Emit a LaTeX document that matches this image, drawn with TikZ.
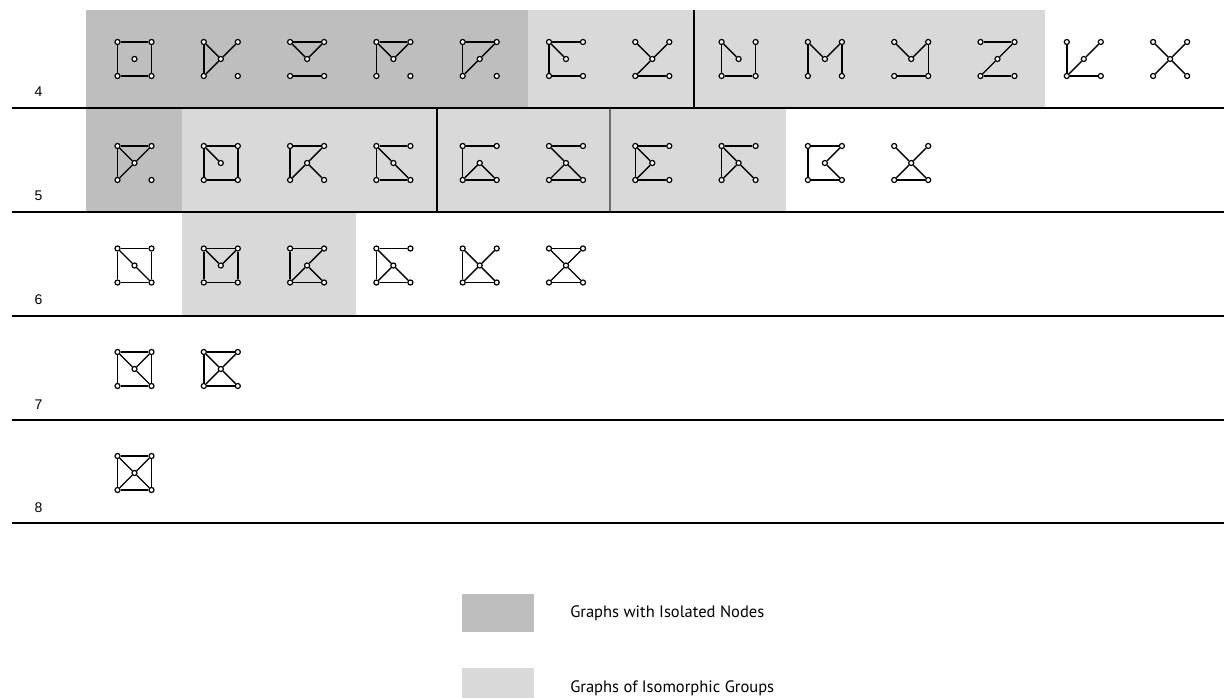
\documentclass[tikz,border=0pt]{standalone}
\usepackage{fontspec}
\setmainfont{Liberation Sans}
\newfontfamily\legendfont{PT Sans}
\definecolor{isodark}{RGB}{190,190,190}
\definecolor{isolight}{RGB}{217,217,217}
\definecolor{sepgray}{RGB}{110,110,110}
\tikzset{
  vtx/.style={circle,draw=black,fill=white,inner sep=0pt,minimum size=3.8pt,line width=0.9pt},
  gline/.style={line width=1.05pt,black},
  rowline/.style={line width=1.1pt,black},
  rowlabel/.style={anchor=base,inner sep=0pt,font=\fontsize{10.5}{12}\selectfont},
  legendtext/.style={anchor=west,inner sep=0pt,font=\legendfont\fontsize{12.4}{14}\selectfont},
}
\newcommand{\drawgraph}[4]{%
  \begin{scope}[shift={(#2,#3)}]
    \node[vtx] (#1tl) at (-17,-17) {};
    \node[vtx] (#1tr) at (17,-17) {};
    \node[vtx] (#1bl) at (-17,17) {};
    \node[vtx] (#1br) at (17,17) {};
    \node[vtx] (#1c) at (0,0) {};
    \foreach \u/\v in {#4} {\draw[gline] (#1\u) -- (#1\v);}
  \end{scope}}
\begin{document}
\begin{tikzpicture}[x=0.75pt,y=-0.75pt]
\useasboundingbox (0,0) rectangle (1224,698);
% shaded groups
\fill[isodark] (86,10) rectangle (528,108);
\fill[isolight] (528,10) rectangle (1045,108);
\fill[isodark] (86,108) rectangle (182,212);
\fill[isolight] (182,108) rectangle (786,212);
\fill[isolight] (182,212) rectangle (356,316);
\draw[line width=1pt] (694,10) -- (694,108);
\draw[line width=1pt] (437,108) -- (437,212);
\draw[line width=1pt,sepgray] (610,108) -- (610,212);
% row separators
\foreach \yy in {108,212,316,420,523} {\draw[rowline] (12,\yy) -- (1224,\yy);}
% row labels
\node[rowlabel] (l4) at (38.5,97) {4};
\node[rowlabel] (l5) at (38.5,201) {5};
\node[rowlabel] (l6) at (38.5,305) {6};
\node[rowlabel] (l7) at (38.5,409) {7};
\node[rowlabel] (l8) at (38.5,512) {8};
% row 4
\drawgraph{a1}{134.5}{59}{tl/tr,tr/br,br/bl,bl/tl}
\drawgraph{a2}{220.8}{59}{tl/bl,tl/c,bl/c,c/tr}
\drawgraph{a3}{307.1}{59}{tl/tr,tl/c,tr/c,bl/br}
\drawgraph{a4}{393.4}{59}{tl/tr,tl/c,tr/c,tl/bl}
\drawgraph{a5}{479.7}{59}{tl/tr,tl/bl,bl/c,c/tr}
\drawgraph{a6}{566.0}{59}{tl/tr,tl/c,tl/bl,bl/br}
\drawgraph{a7}{652.3}{59}{tl/c,tr/c,c/bl,bl/br}
\drawgraph{a8}{738.6}{59}{tl/c,tl/bl,bl/br,br/tr}
\drawgraph{a9}{824.9}{59}{tl/bl,tl/c,c/tr,tr/br}
\drawgraph{a10}{911.2}{59}{tl/c,c/tr,tr/br,br/bl}
\drawgraph{a11}{997.5}{59}{tl/tr,tr/c,c/bl,bl/br}
\drawgraph{a12}{1083.8}{59}{tl/bl,bl/c,c/tr,bl/br}
\drawgraph{a13}{1170.1}{59}{tl/c,tr/c,bl/c,br/c}
% row 5
\drawgraph{b1}{134.5}{163}{tl/tr,tl/bl,tl/c,c/tr,c/bl}
\drawgraph{b2}{220.8}{163}{tl/tr,tr/br,br/bl,bl/tl,tl/c}
\drawgraph{b3}{307.1}{163}{tl/tr,tl/bl,tr/c,c/bl,c/br}
\drawgraph{b4}{393.4}{163}{tl/tr,tl/bl,tl/c,c/br,bl/br}
\drawgraph{b5}{479.7}{163}{tl/tr,tl/bl,bl/c,c/br,bl/br}
\drawgraph{b6}{566.0}{163}{tl/tr,tl/c,c/br,c/bl,bl/br}
\drawgraph{b7}{652.3}{163}{tl/tr,tl/bl,tl/c,c/bl,bl/br}
\drawgraph{b8}{738.6}{163}{tl/tr,tl/bl,tl/c,c/bl,c/br}
\drawgraph{b9}{824.9}{163}{tl/tr,tl/bl,tr/c,c/br,bl/br}
\drawgraph{b10}{911.2}{163}{tl/c,tr/c,bl/c,br/c,bl/br}
% row 6
\drawgraph{c1}{134.5}{265.5}{tl/tr,tr/br,br/bl,bl/tl,tl/c,c/br}
\drawgraph{c2}{220.8}{265.5}{tl/tr,tr/br,br/bl,bl/tl,tl/c,c/tr}
\drawgraph{c3}{307.1}{265.5}{tl/tr,tl/bl,tr/c,c/bl,c/br,bl/br}
\drawgraph{c4}{393.4}{265.5}{tl/tr,tl/bl,tl/c,c/bl,c/br,bl/br}
\drawgraph{c5}{479.7}{265.5}{tl/bl,tl/c,tr/c,bl/c,br/c,bl/br}
\drawgraph{c6}{566.0}{265.5}{tl/tr,tl/c,tr/c,bl/c,br/c,bl/br}
% row 7
\drawgraph{d1}{134.5}{369}{tl/tr,tr/br,br/bl,bl/tl,tl/c,tr/c,c/br}
\drawgraph{d2}{220.8}{369}{tl/tr,tl/bl,tl/c,tr/c,bl/c,br/c,bl/br}
% row 8
\drawgraph{e1}{134.5}{473}{tl/tr,tr/br,br/bl,bl/tl,tl/c,tr/c,bl/c,br/c}
% legend
\fill[isodark] (462,594) rectangle (534,632);
\fill[isolight] (462,668) rectangle (534,698);
\node[legendtext] (t1) at (570,613) {Graphs with Isolated Nodes};
\node[legendtext] (t2) at (570,688) {Graphs of Isomorphic Groups};
\end{tikzpicture}
\end{document}
